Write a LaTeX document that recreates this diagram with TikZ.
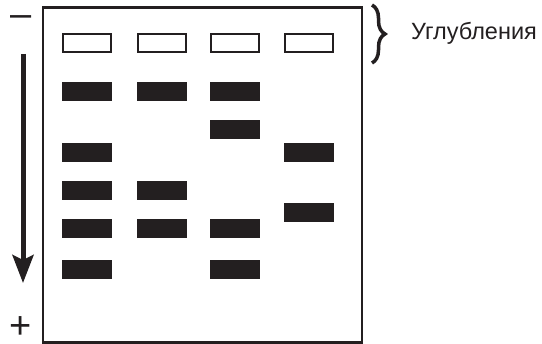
\documentclass[tikz,border=0pt]{standalone}
\usepackage{fontspec}
\setmainfont{Liberation Sans}
\usetikzlibrary{arrows.meta,decorations.pathreplacing}
\definecolor{ink}{HTML}{231F20}
\tikzset{
  well/.style={draw=ink, line width=2pt, fill=white, minimum width=48pt, minimum height=18pt, inner sep=0pt},
  band/.style={fill=ink, minimum width=50pt, minimum height=19pt, inner sep=0pt},
  sign/.style={inner sep=0pt, text=ink, font=\fontsize{38}{38}\selectfont},
}
\begin{document}
\begin{tikzpicture}[x=1pt,y=-1pt]
\useasboundingbox (0,0) rectangle (542,344);
\fill[white] (0,0) rectangle (542,344);
% gel
\node[draw=ink, line width=2.5pt, minimum width=319pt, minimum height=335pt, inner sep=0pt] (gel) at (202.5,175) {};
% wells
\node[well] (w1) at (87,43) {};
\node[well] (w2) at (161.5,43) {};
\node[well] (w3) at (235,43) {};
\node[well] (w4) at (309,43) {};
% lane 1
\node[band] (b11) at (87,91.5) {};
\node[band] (b12) at (87,152.5) {};
\node[band] (b13) at (87,190.5) {};
\node[band] (b14) at (87,228.5) {};
\node[band] (b15) at (87,269.5) {};
% lane 2
\node[band] (b21) at (161.5,91.5) {};
\node[band] (b22) at (161.5,190.5) {};
\node[band] (b23) at (161.5,228.5) {};
% lane 3
\node[band] (b31) at (235,91.5) {};
\node[band] (b32) at (235,130) {};
\node[band] (b33) at (235,228.5) {};
\node[band] (b34) at (235,269.5) {};
% lane 4
\node[band] (b41) at (309,152.5) {};
\node[band] (b42) at (309,213) {};
% electrodes
\node[sign] (minus) at (21,21) {–};
\node[sign] (plus) at (21,328) {+};
\coordinate (astart) at (23,54);
\coordinate (aend) at (23,283);
\draw[ink, line width=5pt, -{Stealth[length=28pt,width=21pt,inset=5pt]}] (astart) -- (aend);
% brace and label
\coordinate (btop) at (372,5);
\coordinate (bbot) at (372,63);
\draw[ink, line width=3.5pt, decorate, decoration={brace, amplitude=13pt}] (btop) -- (bbot);
\node[anchor=base west, inner sep=0pt, text=ink, font=\fontsize{23.5}{23.5}\selectfont] (lbl) at (411,40) {Углубления};
\end{tikzpicture}
\end{document}
